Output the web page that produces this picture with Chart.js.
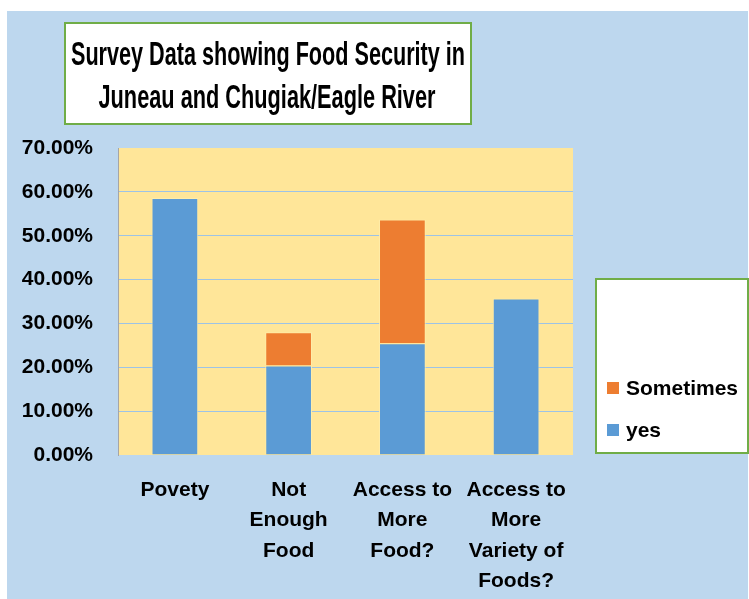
<!DOCTYPE html>
<html>
<head>
<meta charset="utf-8">
<script src="https://cdn.jsdelivr.net/npm/chart.js@4.4.0/dist/chart.umd.min.js"></script>
<style>
  html, body { margin: 0; padding: 0; background: #ffffff; }
  canvas { display: block; }
</style>
</head>
<body>
<canvas id="chart" width="749" height="599"></canvas>
<script>
// chart data
const categories = [
    ['Povety'],
    ['Not', 'Enough', 'Food'],
    ['Access to', 'More', 'Food?'],
    ['Access to', 'More', 'Variety of', 'Foods?']
];
const yesValues = [58.6, 20.4, 25.5, 35.7];
const sometimesValues = [null, 7.6, 28.2, null];
const seriesNames = ['yes', 'Sometimes'];
const titleLines = ['Survey Data showing Food Security in', 'Juneau and Chugiak/Eagle River'];

const BLUE = '#5B9BD5';
const ORANGE = '#ED7D31';
const GREEN = '#70AD47';
const FONT = '"Liberation Sans", Arial, sans-serif';

// draws page background, plot fill, title box and legend box
const decorPlugin = {
    id: 'decor',
    beforeDraw(chart) {
        const ctx = chart.ctx;
        const a = chart.chartArea;
        ctx.save();
        ctx.fillStyle = '#BDD7EE';
        ctx.fillRect(7, 11, 741, 588);
        ctx.fillStyle = '#FFE699';
        ctx.fillRect(a.left, a.top, a.right - a.left, a.bottom - a.top);
        ctx.restore();
    },
    afterDraw(chart) {
        const ctx = chart.ctx;
        ctx.save();
        // title box
        ctx.fillStyle = '#ffffff';
        ctx.fillRect(65, 23, 406, 101);
        ctx.strokeStyle = GREEN;
        ctx.lineWidth = 2;
        ctx.strokeRect(65, 23, 406, 101);
        ctx.fillStyle = '#000000';
        ctx.font = 'bold 33px ' + FONT;
        ctx.textAlign = 'center';
        ctx.textBaseline = 'alphabetic';
        ctx.fillText(titleLines[0], 268, 65, 394);
        ctx.fillText(titleLines[1], 267, 108, 337);

        // legend box
        ctx.fillStyle = '#ffffff';
        ctx.fillRect(596, 279, 152, 174);
        ctx.strokeStyle = GREEN;
        ctx.strokeRect(596, 279, 152, 174);
        ctx.font = 'bold 21px ' + FONT;
        ctx.textAlign = 'left';
        const items = [
            { name: seriesNames[1], color: ORANGE, y: 395 },
            { name: seriesNames[0], color: BLUE, y: 437 }
        ];
        items.forEach(it => {
            ctx.fillStyle = it.color;
            ctx.fillRect(607, it.y - 13, 12, 12);
            ctx.fillStyle = '#000000';
            ctx.fillText(it.name, 626, it.y);
        });
        ctx.restore();
    }
};

new Chart(document.getElementById('chart'), {
    type: 'bar',
    data: {
        labels: categories,
        datasets: [
            {
                label: seriesNames[0],
                data: yesValues,
                backgroundColor: BLUE,
                borderColor: 'rgba(255, 236, 170, 0.9)',
                borderWidth: 1,
                categoryPercentage: 0.79,
                barPercentage: 0.52
            },
            {
                label: seriesNames[1],
                data: sometimesValues,
                backgroundColor: ORANGE,
                borderColor: 'rgba(255, 236, 170, 0.9)',
                borderWidth: 1,
                categoryPercentage: 0.79,
                barPercentage: 0.52
            }
        ]
    },
    options: {
        responsive: false,
        animation: false,
        devicePixelRatio: 1,
        layout: { padding: { left: 0, top: 148, right: 176, bottom: 0 } },
        plugins: {
            legend: { display: false },
            title: { display: false },
            tooltip: { enabled: false }
        },
        scales: {
            x: {
                stacked: true,
                grid: { display: false },
                border: { display: false },
                ticks: {
                    color: '#000000',
                    padding: 12,
                    maxRotation: 0,
                    autoSkip: false,
                    font: { family: FONT, size: 21, weight: 'bold', lineHeight: 1.45 }
                },
                afterFit(scale) { scale.height = 144; }
            },
            y: {
                stacked: true,
                min: 0,
                max: 70,
                grid: {
                    drawTicks: false,
                    lineWidth: 1,
                    color: ctx => (ctx.tick && (ctx.tick.value === 0 || ctx.tick.value === 70)) ? 'rgba(0,0,0,0)' : '#9DC3E6'
                },
                border: { display: true, color: '#A6A6A6', width: 1 },
                ticks: {
                    stepSize: 10,
                    color: '#000000',
                    padding: 25,
                    font: { family: FONT, size: 21, weight: 'bold' },
                    callback: v => v.toFixed(2) + '%'
                },
                afterFit(scale) { scale.width = 118; }
            }
        }
    },
    plugins: [decorPlugin]
});
</script>
</body>
</html>
